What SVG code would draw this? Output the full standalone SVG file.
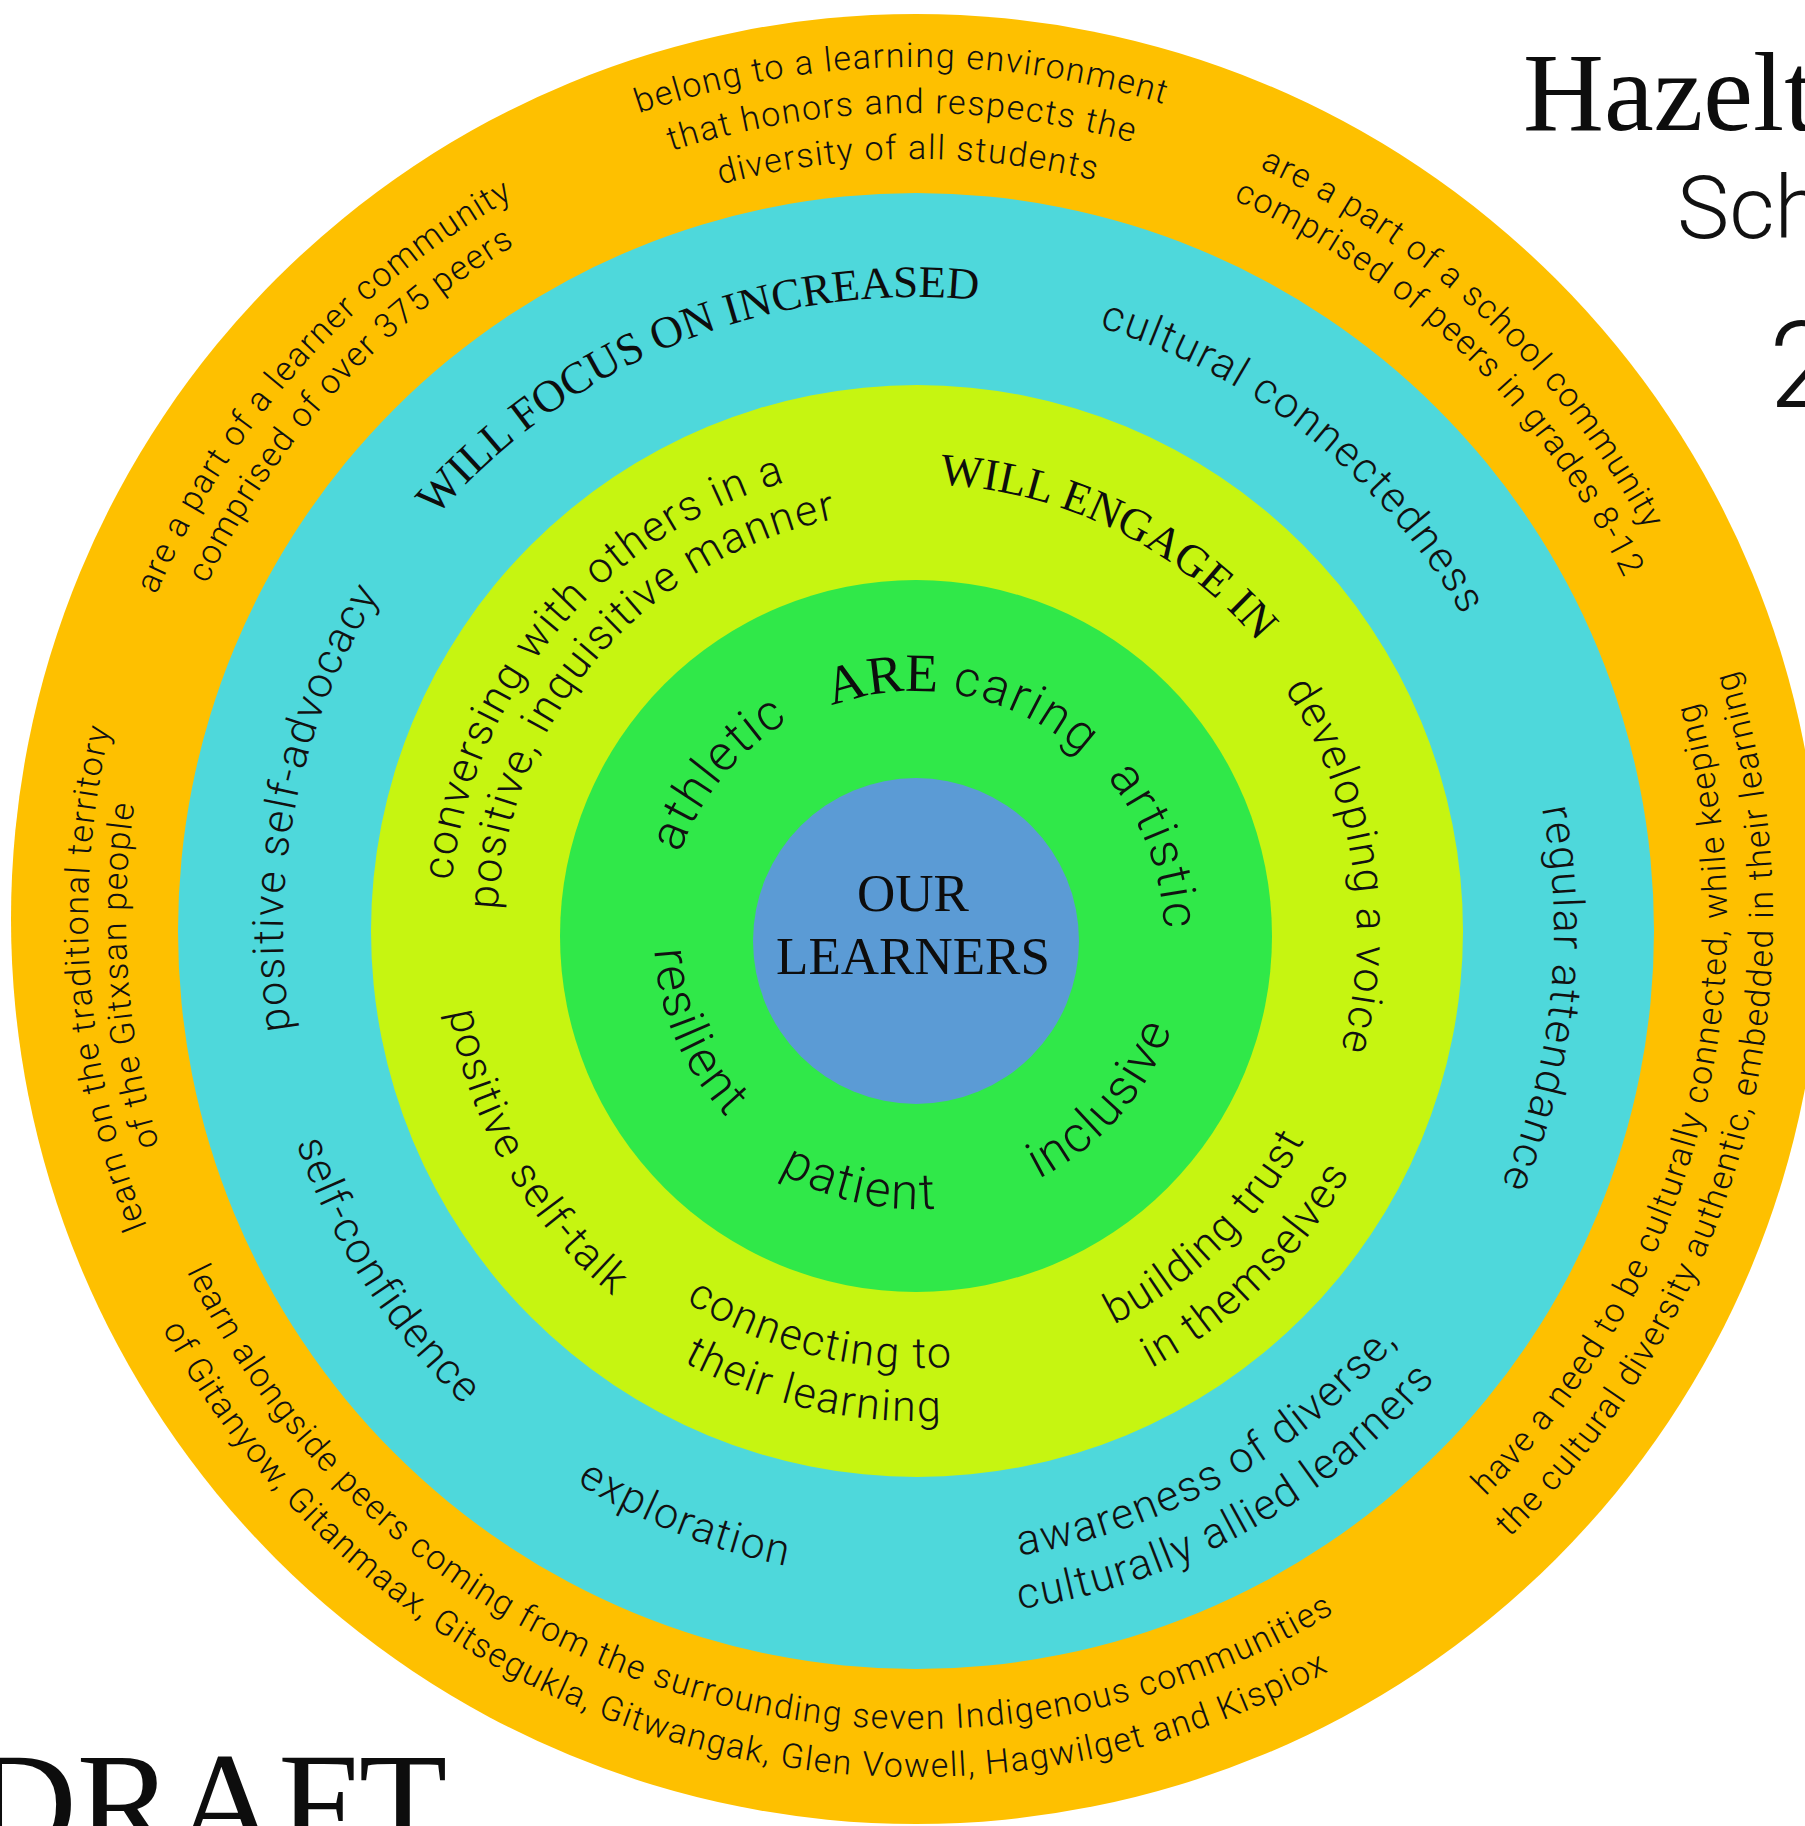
<svg xmlns="http://www.w3.org/2000/svg" xmlns:xlink="http://www.w3.org/1999/xlink" width="1805" height="1826" viewBox="0 0 1805 1826">
<style>
.s{font-family:Roboto,'Liberation Sans',Arial,sans-serif;font-weight:300;fill:#111}
.o{font-size:34px;letter-spacing:1.5px}
.m{font-size:43px;letter-spacing:1.8px}
.gr{font-size:50px;letter-spacing:2px}
.sf{font-family:'Liberation Serif','Times New Roman',serif;font-weight:400;fill:#0d0d0d}
.h{font-size:45px}
</style>
<defs>
<path id="o-cw-852" d="M916,1771 A852,852 0 1 1 916,67 A852,852 0 1 1 916,1771"/>
<path id="o-cw-806" d="M916,1725 A806,806 0 1 1 916,113 A806,806 0 1 1 916,1725"/>
<path id="o-cw-760" d="M916,1679 A760,760 0 1 1 916,159 A760,760 0 1 1 916,1679"/>
<path id="o-cw-826" d="M916,1745 A826,826 0 1 1 916,93 A826,826 0 1 1 916,1745"/>
<path id="o-cw-784" d="M916,1703 A784,784 0 1 1 916,135 A784,784 0 1 1 916,1703"/>
<path id="o-cw-786" d="M916,1705 A786,786 0 1 1 916,133 A786,786 0 1 1 916,1705"/>
<path id="o-cw-828" d="M916,1747 A828,828 0 1 1 916,91 A828,828 0 1 1 916,1747"/>
<path id="o-cw-790" d="M916,1709 A790,790 0 1 1 916,129 A790,790 0 1 1 916,1709"/>
<path id="o-ccw-810" d="M916,109 A810,810 0 1 0 916,1729 A810,810 0 1 0 916,109"/>
<path id="o-ccw-858" d="M916,61 A858,858 0 1 0 916,1777 A858,858 0 1 0 916,61"/>
<path id="o-ccw-811" d="M916,108 A811,811 0 1 0 916,1730 A811,811 0 1 0 916,108"/>
<path id="o-ccw-857" d="M916,62 A857,857 0 1 0 916,1776 A857,857 0 1 0 916,62"/>
<path id="y-cw-634" d="M916,1565 A634,634 0 1 1 916,297 A634,634 0 1 1 916,1565"/>
<path id="y-cw-631" d="M916,1562 A631,631 0 1 1 916,300 A631,631 0 1 1 916,1562"/>
<path id="y-cw-638" d="M916,1569 A638,638 0 1 1 916,293 A638,638 0 1 1 916,1569"/>
<path id="y-cw-633" d="M916,1564 A633,633 0 1 1 916,298 A633,633 0 1 1 916,1564"/>
<path id="y-ccw-633" d="M916,298 A633,633 0 1 0 916,1564 A633,633 0 1 0 916,298"/>
<path id="y-ccw-686" d="M916,245 A686,686 0 1 0 916,1617 A686,686 0 1 0 916,245"/>
<path id="y-ccw-648" d="M916,283 A648,648 0 1 0 916,1579 A648,648 0 1 0 916,283"/>
<path id="y-ccw-655" d="M916,276 A655,655 0 1 0 916,1586 A655,655 0 1 0 916,276"/>
<path id="l-cw-468" d="M917,1399 A468,468 0 1 1 917,463 A468,468 0 1 1 917,1399"/>
<path id="l-cw-420" d="M917,1351 A420,420 0 1 1 917,511 A420,420 0 1 1 917,1351"/>
<path id="l-cw-447" d="M917,1378 A447,447 0 1 1 917,484 A447,447 0 1 1 917,1378"/>
<path id="l-cw-440" d="M917,1371 A440,440 0 1 1 917,491 A440,440 0 1 1 917,1371"/>
<path id="l-ccw-440" d="M917,491 A440,440 0 1 0 917,1371 A440,440 0 1 0 917,491"/>
<path id="l-ccw-496" d="M917,435 A496,496 0 1 0 917,1427 A496,496 0 1 0 917,435"/>
<path id="l-ccw-437" d="M917,494 A437,437 0 1 0 917,1368 A437,437 0 1 0 917,494"/>
<path id="l-ccw-490" d="M917,441 A490,490 0 1 0 917,1421 A490,490 0 1 0 917,441"/>
<path id="l-ccw-475" d="M917,456 A475,475 0 1 0 917,1406 A475,475 0 1 0 917,456"/>
<path id="g-cw-250" d="M916,1186 A250,250 0 1 1 916,686 A250,250 0 1 1 916,1186"/>
<path id="g-cw-245" d="M916,1181 A245,245 0 1 1 916,691 A245,245 0 1 1 916,1181"/>
<path id="g-cw-248" d="M916,1184 A248,248 0 1 1 916,688 A248,248 0 1 1 916,1184"/>
<path id="g-ccw-272" d="M916,664 A272,272 0 1 0 916,1208 A272,272 0 1 0 916,664"/>
<path id="g-ccw-273" d="M916,663 A273,273 0 1 0 916,1209 A273,273 0 1 0 916,663"/>
<path id="g-ccw-262" d="M916,674 A262,262 0 1 0 916,1198 A262,262 0 1 0 916,674"/>
</defs>
<rect x="0" y="0" width="1805" height="1826" fill="#ffffff"/>

<g id="ring-outer">
<circle cx="916" cy="919" r="905" fill="#FEC000"/>
</g>
<g id="ring-focus">
<circle cx="916" cy="931" r="738" fill="#4ED8DB"/>
</g>
<g id="ring-engage">
<circle cx="917" cy="931" r="546" fill="#C6F511"/>
</g>
<g id="ring-are">
<circle cx="916" cy="936" r="356" fill="#30E849"/>
</g>
<g id="center-learners">
<circle cx="916" cy="941" r="163" fill="#5B9BD5"/>
<text class="sf" font-size="53" x="913" y="911" text-anchor="middle">OUR</text>
<text class="sf" font-size="53" x="913" y="974" text-anchor="middle">LEARNERS</text>
</g>

<g id="outer-texts">
<text class="s o" transform="rotate(-1 916 919)"><textPath xlink:href="#o-cw-852" href="#o-cw-852" startOffset="50%" text-anchor="middle">belong to a learning environment</textPath></text>
<text class="s o" transform="rotate(-1 916 919)"><textPath xlink:href="#o-cw-806" href="#o-cw-806" startOffset="50%" text-anchor="middle">that honors and respects the</textPath></text>
<text class="s o" transform="rotate(-0.6 916 919)"><textPath xlink:href="#o-cw-760" href="#o-cw-760" startOffset="50%" text-anchor="middle">diversity of all students</textPath></text>
<text class="s o" transform="rotate(-48 916 919)"><textPath xlink:href="#o-cw-826" href="#o-cw-826" startOffset="50%" text-anchor="middle">are a part of a learner community</textPath></text>
<text class="s o" transform="rotate(-47.7 916 919)"><textPath xlink:href="#o-cw-784" href="#o-cw-784" startOffset="50%" text-anchor="middle">comprised of over 375 peers</textPath></text>
<text class="s o" transform="rotate(43.3 916 919)"><textPath xlink:href="#o-cw-826" href="#o-cw-826" startOffset="50%" text-anchor="middle">are a part of a school community</textPath></text>
<text class="s o" transform="rotate(44.1 916 919)"><textPath xlink:href="#o-cw-786" href="#o-cw-786" startOffset="50%" text-anchor="middle">comprised of peers in grades 8-12</textPath></text>
<text class="s o" transform="rotate(265.8 916 919)"><textPath xlink:href="#o-cw-828" href="#o-cw-828" startOffset="50%" text-anchor="middle">learn on the traditional territory</textPath></text>
<text class="s o" transform="rotate(265.9 916 919)"><textPath xlink:href="#o-cw-790" href="#o-cw-790" startOffset="50%" text-anchor="middle">of the Gitxsan people</textPath></text>
<text class="s o" transform="rotate(16.5 916 919)"><textPath xlink:href="#o-ccw-810" href="#o-ccw-810" startOffset="50%" text-anchor="middle">learn alongside peers coming from the surrounding seven Indigenous communities</textPath></text>
<text class="s o" transform="rotate(16.3 916 919)"><textPath xlink:href="#o-ccw-858" href="#o-ccw-858" startOffset="50%" text-anchor="middle">of Gitanyow, Gitanmaax, Gitsegukla, Gitwangak, Glen Vowell, Hagwilget and Kispiox</textPath></text>
<text class="s o" transform="rotate(-75.1 916 919)"><textPath xlink:href="#o-ccw-811" href="#o-ccw-811" startOffset="50%" text-anchor="middle">have a need to be culturally connected, while keeping</textPath></text>
<text class="s o" transform="rotate(-75.4 916 919)"><textPath xlink:href="#o-ccw-857" href="#o-ccw-857" startOffset="50%" text-anchor="middle">the cultural diversity authentic, embedded in their learning</textPath></text>
</g>

<g id="focus-texts">
<text class="sf h" transform="rotate(-21.8 916 931)"><textPath xlink:href="#y-cw-634" href="#y-cw-634" startOffset="50%" text-anchor="middle">WILL FOCUS ON INCREASED</textPath></text>
<text class="s m" transform="rotate(38.5 916 931)"><textPath xlink:href="#y-cw-631" href="#y-cw-631" startOffset="50%" text-anchor="middle">cultural connectedness</textPath></text>
<text class="s m" transform="rotate(96.2 916 931)"><textPath xlink:href="#y-cw-638" href="#y-cw-638" startOffset="50%" text-anchor="middle">regular attendance</textPath></text>
<text class="s m" transform="rotate(-29.5 916 931)"><textPath xlink:href="#y-ccw-633" href="#y-ccw-633" startOffset="50%" text-anchor="middle">awareness of diverse,</textPath></text>
<text class="s m" transform="rotate(-29 916 931)"><textPath xlink:href="#y-ccw-686" href="#y-ccw-686" startOffset="50%" text-anchor="middle">culturally allied learners</textPath></text>
<text class="s m" transform="rotate(21.5 916 931)"><textPath xlink:href="#y-ccw-648" href="#y-ccw-648" startOffset="50%" text-anchor="middle">exploration</textPath></text>
<text class="s m" transform="rotate(57.3 916 931)"><textPath xlink:href="#y-ccw-655" href="#y-ccw-655" startOffset="50%" text-anchor="middle">self-confidence</textPath></text>
<text class="s m" transform="rotate(281.6 916 931)"><textPath xlink:href="#y-cw-633" href="#y-cw-633" startOffset="50%" text-anchor="middle">positive self-advocacy</textPath></text>
</g>

<g id="engage-texts">
<text class="s m" transform="rotate(310 917 931)"><textPath xlink:href="#l-cw-468" href="#l-cw-468" startOffset="50%" text-anchor="middle">conversing with others in a</textPath></text>
<text class="s m" transform="rotate(311 917 931)"><textPath xlink:href="#l-cw-420" href="#l-cw-420" startOffset="50%" text-anchor="middle">positive, inquisitive manner</textPath></text>
<text class="sf h" transform="rotate(26.3 917 931)"><textPath xlink:href="#l-cw-447" href="#l-cw-447" startOffset="50%" text-anchor="middle">WILL ENGAGE IN</textPath></text>
<text class="s m" transform="rotate(81.2 917 931)"><textPath xlink:href="#l-cw-440" href="#l-cw-440" startOffset="50%" text-anchor="middle">developing a voice</textPath></text>
<text class="s m" transform="rotate(-44.2 917 931)"><textPath xlink:href="#l-ccw-440" href="#l-ccw-440" startOffset="50%" text-anchor="middle">building trust</textPath></text>
<text class="s m" transform="rotate(-44.55 917 931)"><textPath xlink:href="#l-ccw-496" href="#l-ccw-496" startOffset="50%" text-anchor="middle">in themselves</textPath></text>
<text class="s m" transform="rotate(13.6 917 931)"><textPath xlink:href="#l-ccw-437" href="#l-ccw-437" startOffset="50%" text-anchor="middle">connecting to</textPath></text>
<text class="s m" transform="rotate(12.75 917 931)"><textPath xlink:href="#l-ccw-490" href="#l-ccw-490" startOffset="50%" text-anchor="middle">their learning</textPath></text>
<text class="s m" transform="rotate(59.9 917 931)"><textPath xlink:href="#l-ccw-475" href="#l-ccw-475" startOffset="50%" text-anchor="middle">positive self-talk</textPath></text>
</g>

<g id="are-texts">
<text class="s gr" transform="rotate(309.5 916 936)"><textPath xlink:href="#g-cw-250" href="#g-cw-250" startOffset="50%" text-anchor="middle">athletic</textPath></text>
<text class="s gr" transform="rotate(11.4 916 936)"><textPath xlink:href="#g-cw-245" href="#g-cw-245" startOffset="50%" text-anchor="middle"><tspan class="sf" font-size="54" letter-spacing="0">ARE</tspan> caring</textPath></text>
<text class="s gr" transform="rotate(69.5 916 936)"><textPath xlink:href="#g-cw-248" href="#g-cw-248" startOffset="50%" text-anchor="middle">artistic</textPath></text>
<text class="s gr" transform="rotate(-48.6 916 936)"><textPath xlink:href="#g-ccw-272" href="#g-ccw-272" startOffset="50%" text-anchor="middle">inclusive</textPath></text>
<text class="s gr" transform="rotate(12.75 916 936)"><textPath xlink:href="#g-ccw-273" href="#g-ccw-273" startOffset="50%" text-anchor="middle">patient</textPath></text>
<text class="s gr" transform="rotate(66.4 916 936)"><textPath xlink:href="#g-ccw-262" href="#g-ccw-262" startOffset="50%" text-anchor="middle">resilient</textPath></text>
</g>

<g id="title">
<text class="sf" font-size="112" x="1523" y="130">Hazelt</text>
<text class="s" font-size="88" x="1677" y="238">Sch</text>
<text class="s" font-size="120" x="1769" y="407">2</text>
</g>
<g id="draft">
<text class="sf" font-size="145" x="-28" y="1852">DRAFT</text>
</g>
</svg>
